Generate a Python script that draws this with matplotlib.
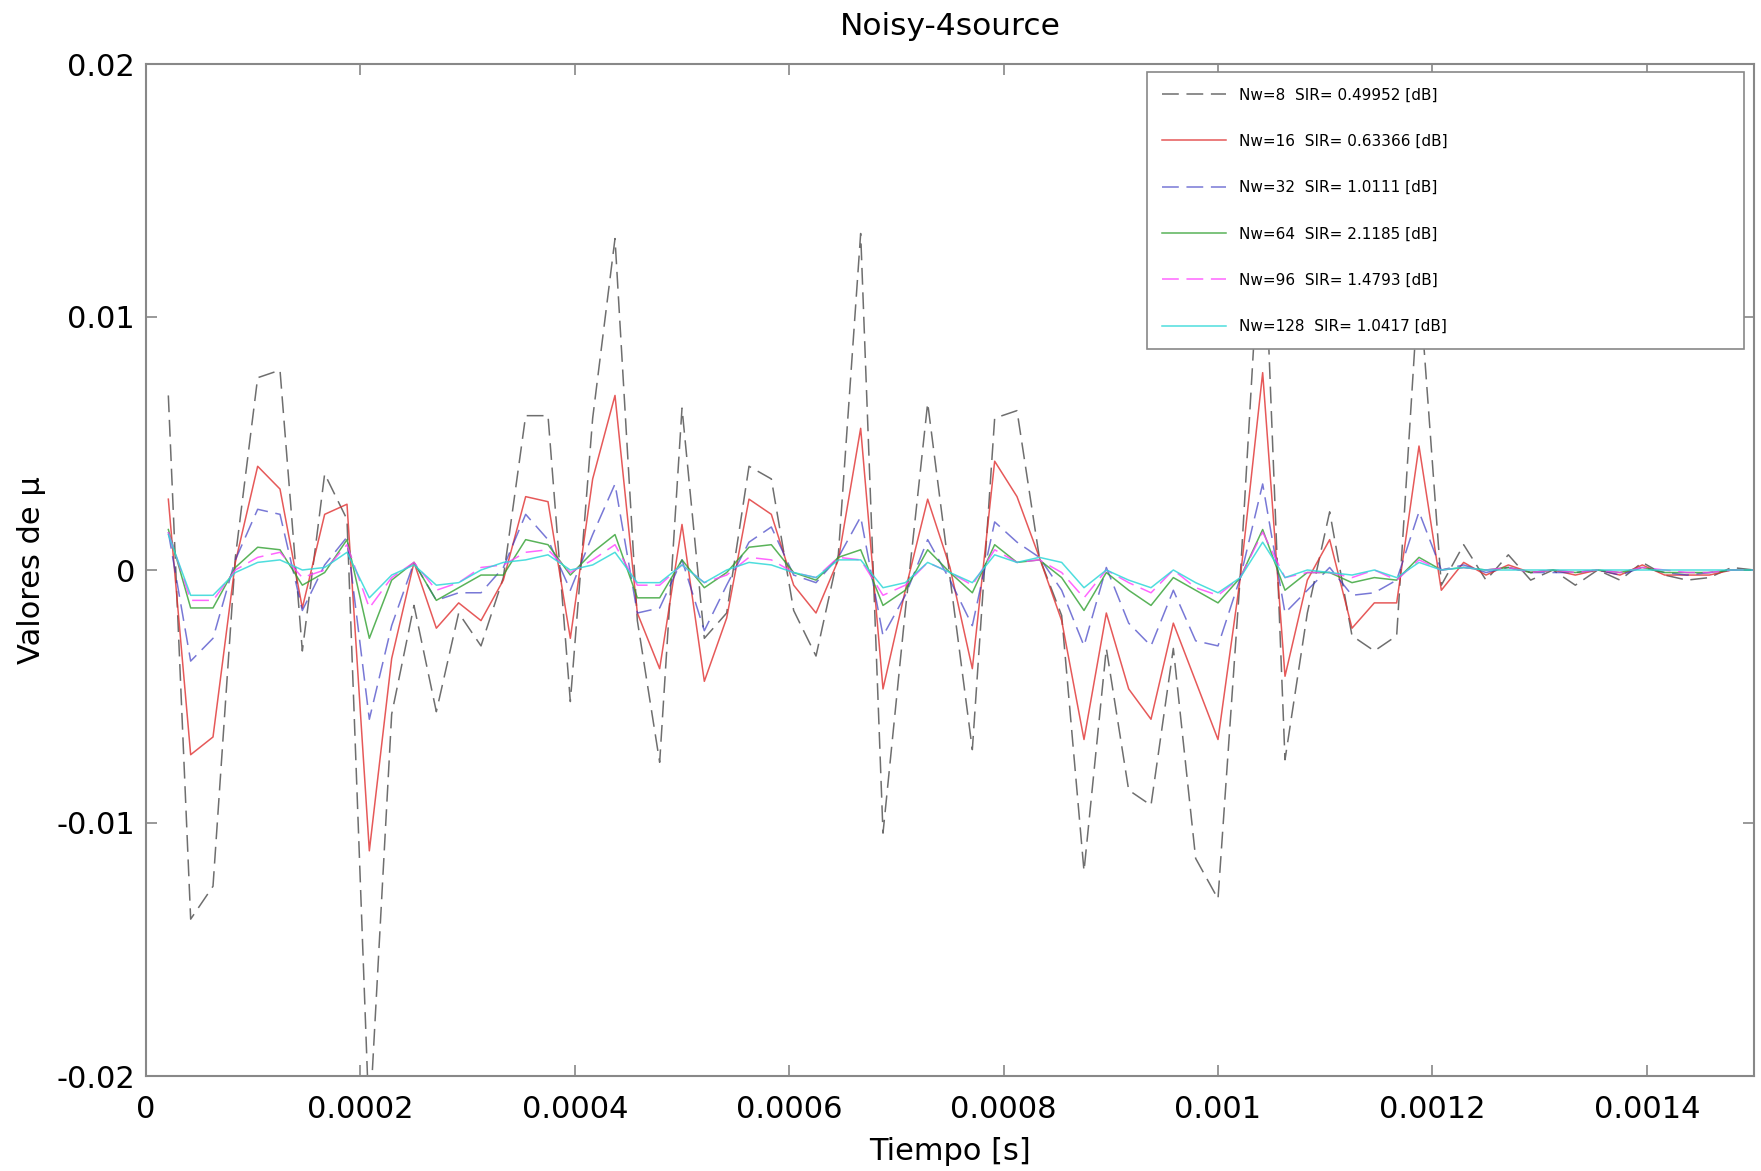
import numpy as np
import matplotlib
matplotlib.use('Agg')
import matplotlib.pyplot as plt

plt.rcParams['font.family'] = 'DejaVu Sans'
plt.rcParams['axes.unicode_minus'] = False

# sample times: 72 samples at fs = 48 kHz
fs = 48000
t = np.arange(1, 73) / fs

nw8 = [0.0069, -0.0138, -0.0125, 0.0005, 0.0076, 0.0079, -0.0032, 0.0038, 0.0020, -0.0220,
       -0.0057, -0.0014, -0.0056, -0.0017, -0.0030, -0.0003, 0.0061, 0.0061, -0.0052, 0.0060,
       0.0131, -0.0020, -0.0076, 0.0064, -0.0027, -0.0017, 0.0041, 0.0036, -0.0016, -0.0034,
       0.0006, 0.0133, -0.0104, -0.0016, 0.0066, -0.0003, -0.0071, 0.0060, 0.0063, 0.0005,
       -0.0018, -0.0119, -0.0031, -0.0087, -0.0093, -0.0031, -0.0114, -0.0130, -0.0002, 0.0150,
       -0.0075, -0.0017, 0.0023, -0.0026, -0.0032, -0.0026, 0.0115, -0.0006, 0.0010, -0.0004,
       0.0006, -0.0004, 0.0000, -0.0006, 0.0000, -0.0004, 0.0003, -0.0002, -0.0004, -0.0003,
       0.0001, 0.0000]
nw16 = [0.0028, -0.0073, -0.0066, 0.0003, 0.0041, 0.0032, -0.0015, 0.0022, 0.0026, -0.0111,
        -0.0035, 0.0003, -0.0023, -0.0013, -0.0020, -0.0004, 0.0029, 0.0027, -0.0027, 0.0036,
        0.0069, -0.0017, -0.0039, 0.0018, -0.0044, -0.0019, 0.0028, 0.0022, -0.0006, -0.0017,
        0.0004, 0.0056, -0.0047, -0.0008, 0.0028, 0.0001, -0.0039, 0.0043, 0.0029, 0.0005,
        -0.0020, -0.0067, -0.0017, -0.0047, -0.0059, -0.0021, -0.0044, -0.0067, -0.0003, 0.0078,
        -0.0042, -0.0004, 0.0012, -0.0023, -0.0013, -0.0013, 0.0049, -0.0008, 0.0003, -0.0002,
        0.0002, -0.0001, 0.0000, -0.0002, 0.0000, -0.0002, 0.0002, -0.0002, -0.0002, -0.0002,
        0.0000, 0.0000]
nw32 = [0.0015, -0.0036, -0.0027, 0.0004, 0.0024, 0.0022, -0.0016, 0.0002, 0.0013, -0.0059,
        -0.0022, 0.0003, -0.0012, -0.0009, -0.0009, 0.0001, 0.0022, 0.0012, -0.0008, 0.0014,
        0.0034, -0.0017, -0.0015, 0.0004, -0.0024, -0.0006, 0.0011, 0.0017, -0.0002, -0.0005,
        0.0005, 0.0021, -0.0026, -0.0010, 0.0012, -0.0004, -0.0022, 0.0019, 0.0011, 0.0005,
        -0.0008, -0.0030, 0.0001, -0.0021, -0.0030, -0.0008, -0.0028, -0.0030, -0.0003, 0.0034,
        -0.0017, -0.0008, 0.0001, -0.0010, -0.0009, -0.0004, 0.0023, 0.0000, 0.0002, -0.0001,
        0.0001, -0.0001, -0.0001, -0.0001, 0.0000, -0.0002, 0.0001, -0.0001, -0.0002, -0.0001,
        0.0000, 0.0000]
nw64 = [0.0016, -0.0015, -0.0015, 0.0001, 0.0009, 0.0008, -0.0006, -0.0001, 0.0012, -0.0027,
        -0.0004, 0.0003, -0.0012, -0.0007, -0.0002, -0.0002, 0.0012, 0.0010, -0.0002, 0.0007,
        0.0014, -0.0011, -0.0011, 0.0004, -0.0007, -0.0001, 0.0009, 0.0010, -0.0001, -0.0004,
        0.0005, 0.0008, -0.0014, -0.0008, 0.0008, -0.0001, -0.0009, 0.0010, 0.0003, 0.0004,
        -0.0003, -0.0016, -0.0001, -0.0008, -0.0014, -0.0003, -0.0008, -0.0013, -0.0003, 0.0016,
        -0.0008, -0.0001, -0.0001, -0.0005, -0.0003, -0.0004, 0.0005, 0.0000, 0.0001, 0.0000,
        0.0001, -0.0001, 0.0000, -0.0001, 0.0000, -0.0001, 0.0001, -0.0001, -0.0001, -0.0001,
        0.0000, 0.0000]
nw96 = [0.0015, -0.0012, -0.0012, 0.0000, 0.0005, 0.0007, -0.0003, 0.0000, 0.0010, -0.0015,
        -0.0003, 0.0003, -0.0008, -0.0005, 0.0001, 0.0002, 0.0007, 0.0008, -0.0001, 0.0004,
        0.0010, -0.0006, -0.0006, 0.0002, -0.0005, -0.0002, 0.0005, 0.0004, -0.0001, -0.0003,
        0.0005, 0.0004, -0.0010, -0.0006, 0.0003, -0.0001, -0.0006, 0.0008, 0.0003, 0.0004,
        -0.0001, -0.0011, 0.0000, -0.0005, -0.0009, 0.0000, -0.0007, -0.0010, -0.0003, 0.0015,
        -0.0003, -0.0001, -0.0001, -0.0003, 0.0000, -0.0004, 0.0004, 0.0000, 0.0001, 0.0000,
        0.0001, -0.0001, 0.0000, -0.0001, 0.0000, -0.0001, 0.0001, 0.0000, -0.0001, -0.0001,
        0.0000, 0.0000]
nw128 = [0.0014, -0.0010, -0.0010, -0.0001, 0.0003, 0.0004, 0.0000, 0.0001, 0.0007, -0.0011,
         -0.0002, 0.0002, -0.0006, -0.0005, 0.0000, 0.0003, 0.0004, 0.0006, 0.0000, 0.0002,
         0.0007, -0.0005, -0.0005, 0.0002, -0.0005, 0.0000, 0.0003, 0.0002, -0.0001, -0.0003,
         0.0004, 0.0004, -0.0007, -0.0005, 0.0003, -0.0001, -0.0005, 0.0006, 0.0003, 0.0005,
         0.0003, -0.0007, 0.0000, -0.0004, -0.0007, 0.0000, -0.0005, -0.0009, -0.0003, 0.0011,
         -0.0003, 0.0000, -0.0001, -0.0002, 0.0000, -0.0003, 0.0003, 0.0000, 0.0001, 0.0000,
         0.0000, 0.0000, 0.0000, 0.0000, 0.0000, 0.0000, 0.0000, 0.0000, 0.0000, 0.0000,
         0.0000, 0.0000]

labels = ['Nw=8  SIR= 0.49952 [dB]', 'Nw=16  SIR= 0.63366 [dB]', 'Nw=32  SIR= 1.0111 [dB]',
          'Nw=64  SIR= 2.1185 [dB]', 'Nw=96  SIR= 1.4793 [dB]', 'Nw=128  SIR= 1.0417 [dB]']

xticks = [0, 0.0002, 0.0004, 0.0006, 0.0008, 0.001, 0.0012, 0.0014]
xticklabels = ['0', '0.0002', '0.0004', '0.0006', '0.0008', '0.001', '0.0012', '0.0014']
yticks = [-0.02, -0.01, 0, 0.01, 0.02]
yticklabels = ['-0.02', '-0.01', '0', '0.01', '0.02']

fig = plt.figure(figsize=(17.61, 11.71), dpi=100)
ax = fig.add_axes([146/1761, 1 - 1076/1171, 1608/1761, 1012/1171])

ax.plot(t, nw8, color='#555555', lw=1.1, dashes=(11, 5), alpha=0.85, label=labels[0])
ax.plot(t, nw16, color='#e03030', lw=1.1, alpha=0.8, label=labels[1])
ax.plot(t, nw32, color='#3030c0', lw=1.1, dashes=(11, 5), alpha=0.65, label=labels[2])
ax.plot(t, nw64, color='#30a030', lw=1.1, alpha=0.8, label=labels[3])
ax.plot(t, nw96, color='#ff40ff', lw=1.1, dashes=(11, 5), alpha=0.8, label=labels[4])
ax.plot(t, nw128, color='#30d8d8', lw=1.1, alpha=0.85, label=labels[5])

ax.set_xlim(0, 0.0015)
ax.set_ylim(-0.02, 0.02)
ax.set_xticks(xticks)
ax.set_xticklabels(xticklabels)
ax.set_yticks(yticks)
ax.set_yticklabels(yticklabels)
ax.tick_params(axis='both', direction='in', length=8, width=1.2, color='#888888',
               labelsize=22, top=True, right=True)
ax.tick_params(axis='x', pad=14)
ax.tick_params(axis='y', pad=8)
for s in ax.spines.values():
    s.set_color('#888888')
    s.set_linewidth(1.5)

ax.set_title('Noisy-4source', fontsize=22.5, pad=21)
ax.set_xlabel('Tiempo [s]', fontsize=22, labelpad=9)
ax.set_ylabel('Valores de μ', fontsize=22, labelpad=7)

leg = ax.legend(loc='upper left', bbox_to_anchor=(0.6225, 0.719, 0.3713, 0.273),
                mode='expand', borderaxespad=0, fontsize=11, labelspacing=2.05,
                handlelength=4.2, handletextpad=0.8, borderpad=1.0,
                fancybox=False, framealpha=1, edgecolor='#888888')
leg.get_frame().set_linewidth(1.2)

fig.savefig('out.png', dpi=100)
